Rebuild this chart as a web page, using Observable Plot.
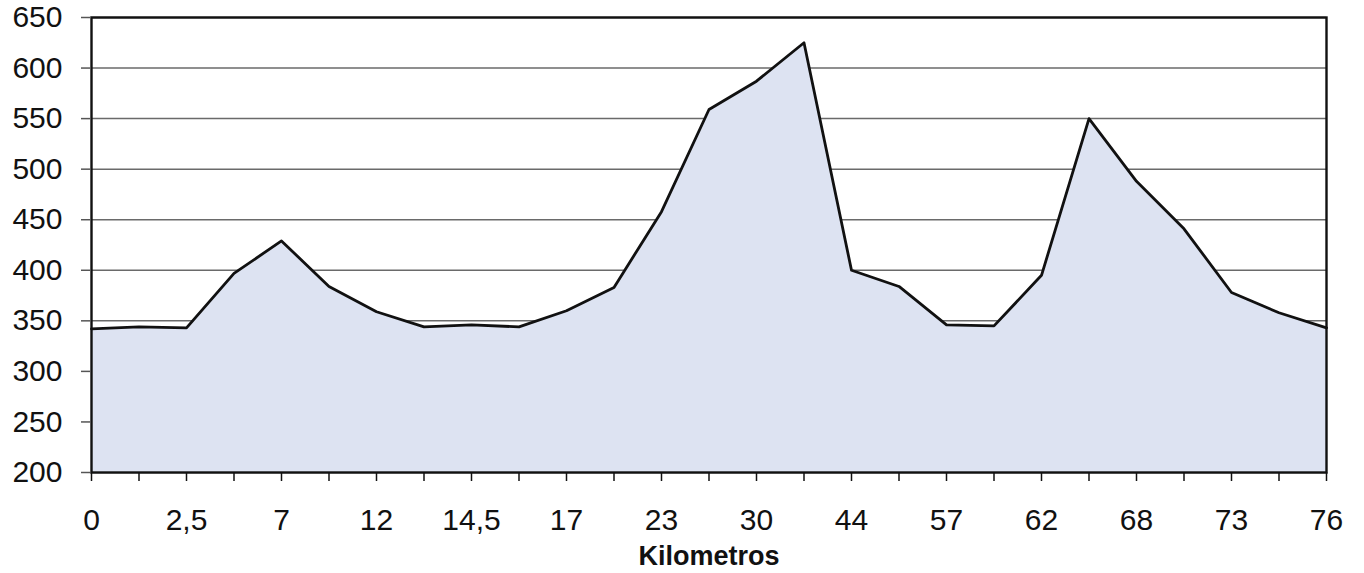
<!DOCTYPE html>
<html><head><meta charset="utf-8">
<script src="https://cdn.jsdelivr.net/npm/d3@7"></script>
<script src="https://cdn.jsdelivr.net/npm/@observablehq/plot@0.6"></script>
<style>body{margin:0;background:#fff;overflow:hidden;}</style>
</head><body><div id="chart"></div>
<script>
const kmLabels = ["0","2,5","7","12","14,5","17","23","30","44","57","62","68","73","76"];
const elevation = [342, 344, 343, 397, 429, 384, 359, 344, 346, 344, 360, 383, 458, 559, 587, 625, 400, 384, 346, 345, 395, 550, 488, 441, 378, 358, 343];
const yTicks = [200, 250, 300, 350, 400, 450, 500, 550, 600, 650];

const data = elevation.map((v, i) => ({i, v}));
const pointIdx = d3.range(elevation.length);

const chart = Plot.plot({
  width: 1364, height: 573,
  marginLeft: 91, marginRight: 38, marginTop: 17, marginBottom: 101,
  style: {fontFamily: "'Liberation Sans', Arial, sans-serif", background: "#fff", color: "#111"},
  x: {domain: [0, elevation.length - 1]},
  y: {domain: [200, 650]},
  marks: [
    Plot.gridY(yTicks, {stroke: "#6a6a6a", strokeOpacity: 1, strokeWidth: 1.5}),
    Plot.areaY(data, {x: "i", y1: 200, y2: "v", fill: "#dde3f2"}),
    Plot.lineY(data, {x: "i", y: "v", stroke: "#111", strokeWidth: 2.8}),
    Plot.frame({stroke: "#111", strokeWidth: 2.4}),
    Plot.axisY({ticks: yTicks, tickSize: 10, tickPadding: 19, fontSize: 30, label: null, stroke: "#555", strokeWidth: 1.5}),
    Plot.axisX({ticks: pointIdx, tickSize: 9, tickPadding: 27, fontSize: 30, label: null, strokeWidth: 1.5,
      tickFormat: i => (i % 2 ? "" : kmLabels[i / 2])}),
    Plot.text(["Kilometros"], {frameAnchor: "bottom", dy: 92, fontWeight: "bold", fontSize: 27, fill: "#111"})
  ]
});
document.getElementById("chart").append(chart);
</script>
</body></html>
